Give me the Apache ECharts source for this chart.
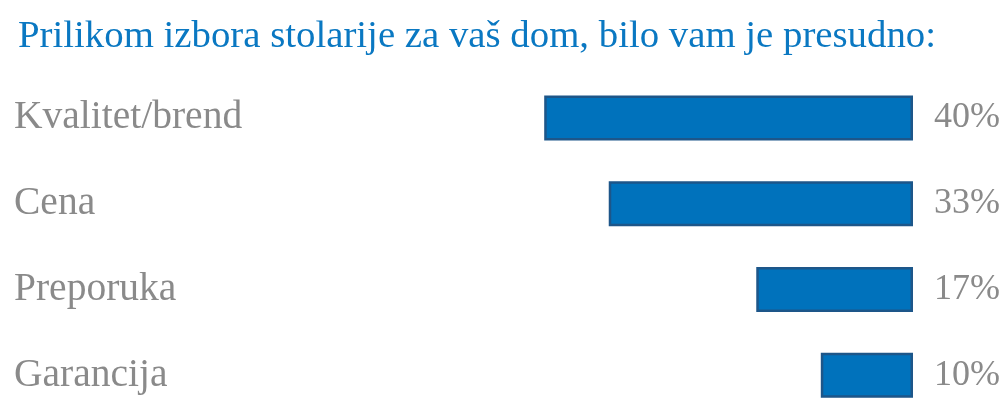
<!DOCTYPE html>
<html>
<head>
<meta charset="utf-8">
<script src="https://cdn.jsdelivr.net/npm/echarts@6/dist/echarts.min.js"></script>
<style>
html, body { margin: 0; padding: 0; background: #fff; }
#chart { width: 1000px; height: 418px; }
</style>
</head>
<body>
<div id="chart"></div>
<script>
var titleText = 'Prilikom izbora stolarije za vaš dom, bilo vam je presudno:';
var categories = ['Kvalitet/brend', 'Cena', 'Preporuka', 'Garancija'];
var values = [40, 33, 17, 10];

var option = {
    animation: false,
    title: {
        text: titleText,
        left: 13,
        top: 12,
        textStyle: {
            fontFamily: 'Liberation Serif',
            fontWeight: 'normal',
            fontSize: 38.8,
            color: '#0a78c2'
        }
    },
    grid: {
        left: 452,
        right: 87,
        top: 75,
        height: 348
    },
    xAxis: {
        type: 'value',
        min: 0,
        max: 50,
        inverse: true,
        show: false
    },
    yAxis: {
        type: 'category',
        data: categories,
        inverse: true,
        axisLine: { show: false },
        axisTick: { show: false },
        axisLabel: {
            align: 'left',
            margin: 438,
            fontFamily: 'Liberation Serif',
            fontSize: 39.5,
            color: '#8a8a8a'
        }
    },
    series: [
        {
            type: 'bar',
            data: values,
            barWidth: 45,
            itemStyle: {
                color: '#0072bc',
                borderColor: '#1d5689',
                borderWidth: 2.5
            },
            label: {
                show: true,
                position: 'right',
                distance: 21,
                formatter: '{c}%',
                fontFamily: 'Liberation Serif',
                fontSize: 36,
                color: '#8a8a8a'
            }
        }
    ]
};
echarts.init(document.getElementById('chart')).setOption(option);
</script>
</body>
</html>
